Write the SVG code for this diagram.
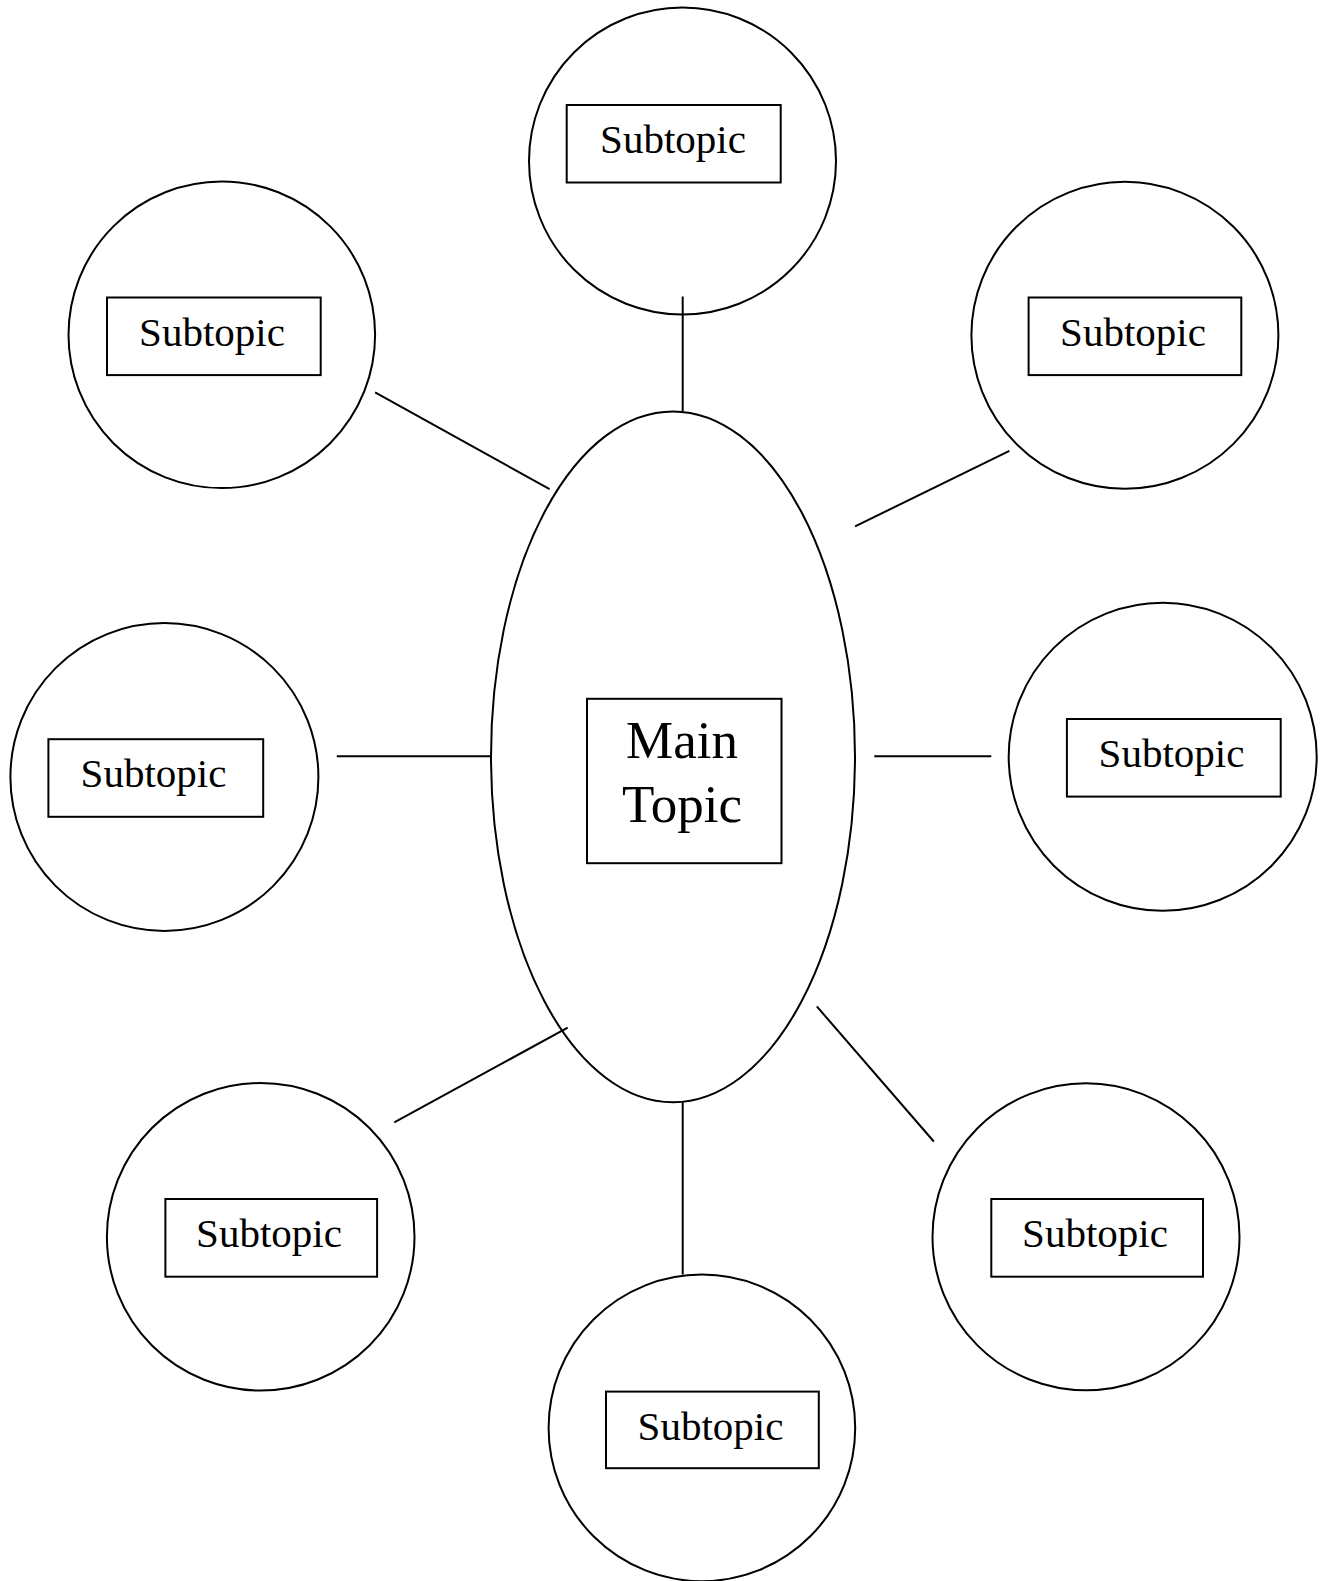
<svg xmlns="http://www.w3.org/2000/svg" width="1325" height="1581" viewBox="0 0 1325 1581">
<style>
.shape{fill:#fff;stroke:#000;stroke-width:2}
.box{fill:none;stroke:#000;stroke-width:2}
.conn line{stroke:#000;stroke-width:2}
.sub{font-family:"Liberation Serif","Times New Roman",serif;font-size:41px;fill:#000;text-anchor:middle}
.main{font-family:"Liberation Serif","Times New Roman",serif;font-size:53px;fill:#000;text-anchor:middle}
</style>
<rect width="1325" height="1581" fill="#fff"/>
<g id="node-top">
<circle class="shape" cx="682.5" cy="161" r="153.5"/>
<rect class="box" x="566.7" y="105" width="214" height="77.5"/>
<text class="sub" x="673" y="153">Subtopic</text>
</g>
<g id="node-upper-left">
<circle class="shape" cx="221.8" cy="334.8" r="153.3"/>
<rect class="box" x="107" y="297.5" width="213.7" height="77.6"/>
<text class="sub" x="212" y="345.5">Subtopic</text>
</g>
<g id="node-upper-right">
<circle class="shape" cx="1124.9" cy="335.3" r="153.5"/>
<rect class="box" x="1028.6" y="297.5" width="212.7" height="77.6"/>
<text class="sub" x="1133" y="345.5">Subtopic</text>
</g>
<g id="node-left">
<circle class="shape" cx="164.4" cy="777" r="154"/>
<rect class="box" x="48.4" y="739.2" width="214.8" height="77.6"/>
<text class="sub" x="153.5" y="787.2">Subtopic</text>
</g>
<g id="node-right">
<circle class="shape" cx="1162.7" cy="756.8" r="154"/>
<rect class="box" x="1066.9" y="719" width="213.8" height="77.6"/>
<text class="sub" x="1171.5" y="767">Subtopic</text>
</g>
<g id="node-lower-left">
<circle class="shape" cx="260.7" cy="1236.8" r="153.8"/>
<rect class="box" x="165.4" y="1199" width="211.7" height="77.7"/>
<text class="sub" x="269" y="1247">Subtopic</text>
</g>
<g id="node-lower-right">
<circle class="shape" cx="1086" cy="1236.8" r="153.5"/>
<rect class="box" x="991.3" y="1199" width="211.7" height="77.7"/>
<text class="sub" x="1095" y="1247">Subtopic</text>
</g>
<g id="node-bottom">
<circle class="shape" cx="701.9" cy="1427.9" r="153.3"/>
<rect class="box" x="606" y="1391.6" width="212.8" height="76.6"/>
<text class="sub" x="710.5" y="1439.5">Subtopic</text>
</g>
<g id="node-main">
<ellipse class="shape" cx="673" cy="756.8" rx="182" ry="345.4"/>
<rect class="box" x="587" y="698.8" width="194.5" height="164.4"/>
<text class="main" x="682" y="758.3">Main</text>
<text class="main" x="682" y="821.8">Topic</text>
</g>
<g id="connectors" class="conn">
<line x1="682.7" y1="296.5" x2="682.7" y2="411.4"/>
<line x1="375.1" y1="392.3" x2="549.6" y2="489.1"/>
<line x1="1009.4" y1="450.8" x2="855.1" y2="526.4"/>
<line x1="336.8" y1="756.3" x2="491.1" y2="756.3"/>
<line x1="874.3" y1="756.3" x2="991.3" y2="756.3"/>
<line x1="567.7" y1="1027.6" x2="394.3" y2="1122.4"/>
<line x1="816.8" y1="1006.4" x2="933.8" y2="1141.5"/>
<line x1="682.7" y1="1102.2" x2="682.7" y2="1274.6"/>
</g>
</svg>
